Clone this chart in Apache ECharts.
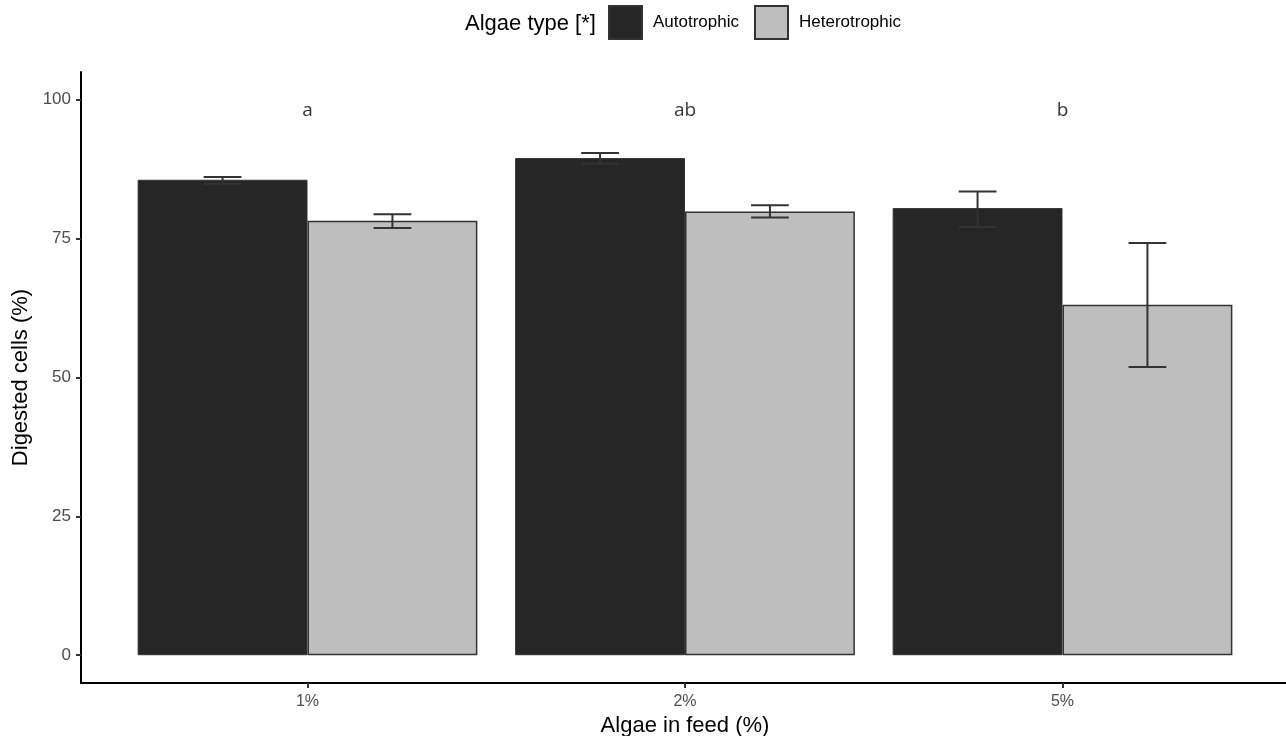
<!DOCTYPE html>
<html>
<head>
<meta charset="utf-8">
<script src="https://cdn.jsdelivr.net/npm/echarts@6/dist/echarts.min.js"></script>
<style>
  html, body { margin: 0; padding: 0; background: #fff; }
  #chart { width: 1286px; height: 736px; }
</style>
</head>
<body>
<div id="chart"></div>
<script>
// data
const categories = ["1%", "2%", "5%"];
const autoMean = [85.6, 89.5, 80.5];
const autoLow = [84.9, 88.5, 77.1];
const autoHigh = [86.1, 90.4, 83.5];
const heteroMean = [78.2, 79.9, 63.1];
const heteroLow = [76.9, 78.8, 51.9];
const heteroHigh = [79.4, 81.0, 74.2];
const letters = ["a", "ab", "b"];
const letterY = [98, 98, 98];
const yTicks = [0, 25, 50, 75, 100];

const font = "Liberation Sans, Arial, sans-serif";
const pos = categories.map((c, i) => i + 1);

function barData(vals) {
    return vals.map((v, i) => [pos[i], v]);
}

function errData(low, high) {
    return low.map((l, i) => [pos[i], l, high[i]]);
}

function errorBars(offset) {
    return function (params, api) {
        const x = api.value(0) + offset;
        const lo = api.coord([x, api.value(1)]);
        const hi = api.coord([x, api.value(2)]);
        const half = api.size([0.05, 0])[0];
        const style = { stroke: "#333", lineWidth: 2 };
        return {
            type: "group",
            children: [
                { type: "line", shape: { x1: lo[0], y1: lo[1], x2: hi[0], y2: hi[1] }, style },
                { type: "line", shape: { x1: hi[0] - half, y1: hi[1], x2: hi[0] + half, y2: hi[1] }, style },
                { type: "line", shape: { x1: lo[0] - half, y1: lo[1], x2: lo[0] + half, y2: lo[1] }, style }
            ]
        };
    };
}

const chart = echarts.init(document.getElementById("chart"));

const option = {
    backgroundColor: "#fff",
    animation: false,
    title: {
        text: "Algae type [*]",
        left: 465,
        top: 13,
        padding: 0,
        textStyle: { fontFamily: font, fontSize: 22, fontWeight: "normal", color: "#000" }
    },
    legend: {
        data: ["Autotrophic", "Heterotrophic"],
        left: 608,
        top: 5,
        padding: 0,
        itemWidth: 33,
        itemHeight: 33,
        itemGap: 15,
        icon: "rect",
        textStyle: { fontFamily: font, fontSize: 17, color: "#000", padding: [0, 0, 0, 6] }
    },
    grid: { left: 81, top: 72, width: 1208, height: 611, outerBoundsMode: "none", containLabel: false },
    xAxis: {
        type: "value",
        min: 0.4,
        max: 3.6,
        name: "Algae in feed (%)",
        nameLocation: "middle",
        nameGap: 26,
        nameTextStyle: { fontFamily: font, fontSize: 22, color: "#000" },
        axisLine: { show: true, onZero: false, lineStyle: { color: "#000", width: 2 } },
        axisTick: { show: true, customValues: pos, length: 5, lineStyle: { color: "#333", width: 2 } },
        axisLabel: {
            customValues: pos,
            formatter: v => categories[Math.round(v) - 1],
            fontFamily: font, fontSize: 16, color: "#4d4d4d", margin: 11
        },
        splitLine: { show: false }
    },
    yAxis: {
        type: "value",
        min: -5,
        max: 105,
        name: "Digested cells (%)",
        nameLocation: "middle",
        nameGap: 47,
        nameTextStyle: { fontFamily: font, fontSize: 22, color: "#000" },
        axisLine: { show: true, onZero: false, lineStyle: { color: "#000", width: 2 } },
        axisTick: { show: true, customValues: yTicks, length: 5, lineStyle: { color: "#333", width: 2 } },
        axisLabel: { customValues: yTicks, fontFamily: font, fontSize: 17, color: "#4d4d4d", margin: 10 },
        splitLine: { show: false }
    },
    series: [
        {
            name: "Autotrophic",
            type: "bar",
            data: barData(autoMean),
            barWidth: "45%",
            barGap: "0%",
            itemStyle: { color: "#262626", borderColor: "#333", borderWidth: 1 }
        },
        {
            name: "Heterotrophic",
            type: "bar",
            data: barData(heteroMean),
            barWidth: "45%",
            barGap: "0%",
            itemStyle: { color: "#bebebe", borderColor: "#333", borderWidth: 1.5 }
        },
        {
            type: "custom",
            data: errData(autoLow, autoHigh),
            renderItem: errorBars(-0.225),
            z: 5
        },
        {
            type: "custom",
            data: errData(heteroLow, heteroHigh),
            renderItem: errorBars(0.225),
            z: 5
        },
        {
            type: "scatter",
            data: letterY.map((y, i) => [pos[i], y]),
            symbolSize: 0,
            label: {
                show: true,
                position: "inside",
                formatter: p => letters[p.dataIndex],
                fontFamily: "Open Sans, Noto Sans, sans-serif",
                fontSize: 19,
                color: "#000"
            },
            silent: true
        }
    ]
};

chart.setOption(option);
</script>
</body>
</html>
